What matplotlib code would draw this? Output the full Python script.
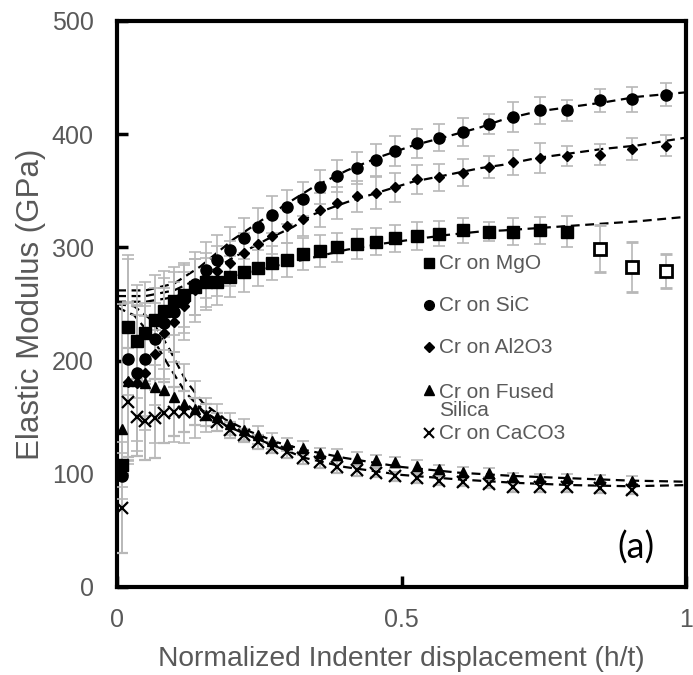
import numpy as np
import matplotlib
matplotlib.use("Agg")
import matplotlib.pyplot as plt

nan = np.nan

# normalized indenter displacement h/t (shared grid of indents)
h_t = [0.008, 0.019, 0.035, 0.049, 0.066, 0.082, 0.100, 0.118, 0.137, 0.156,
       0.176, 0.199, 0.223, 0.247, 0.272, 0.299, 0.327, 0.357, 0.387, 0.422,
       0.455, 0.489, 0.527, 0.566, 0.608, 0.654, 0.696, 0.743, 0.791, 0.849,
       0.905, 0.965]

# elastic modulus (GPa) for each film/substrate pair
mgo = [108, 230, 217, 224, 236, 244, 253, 258, 265, 269, 269, 274, 278, 282,
       286, 289, 294, 297, 300, 303, 305, 308, 310, 312, 315, 314, 314, 315,
       314, nan, nan, nan]
mgo_err = [20, 60, 50, 45, 40, 35, 30, 28, 25, 22, 20, 18, 17, 16, 15, 15,
           14, 14, 13, 13, 12, 12, 12, 11, 11, 8, 12, 12, 14, nan, nan, nan]
# MgO points past the film/substrate limit (open symbols)
mgo_open = [nan] * 29 + [299, 283, 279]
mgo_open_err = [nan] * 29 + [21, 22, 15]

sic = [98, 201, 189, 201, 219, 233, 243, 254, 268, 280, 289, 298, 308, 318,
       329, 336, 343, 353, 363, 370, 377, 385, 392, 397, 402, 409, 415, 421,
       421, 430, 431, 435]
sic_err = [20, 92, 60, 50, 45, 40, 35, 30, 28, 25, 22, 20, 18, 17, 16, 15,
           15, 15, 14, 14, 14, 13, 13, 12, 12, 9, 13, 12, 9, 10, 11, 10]

al2o3 = [nan, 181, 180, 189, 206, 224, 234, 248, 262, 270, 279, 286, 295, 303,
         310, 319, 325, 333, 339, 345, 348, 353, 360, 362, 366, 371, 375, 379,
         381, 382, 387, 390]
al2o3_err = [nan, 70, 60, 50, 45, 40, 35, 30, 28, 25, 22, 20, 18, 17, 16, 15,
             15, 15, 14, 14, 14, 13, 13, 12, 12, 10, 11, 13, 9, 9, 10, 9]

silica = [140, 182, 182, 180, 177, 174, 168, 162, 157, 152, 150, 144, 139, 134,
          129, 126, 123, 118, 117, 114, 112, 110, 107, 104, 102, 101, 97, 96,
          96, 95, 94, nan]
silica_err = [110, 70, 66, 68, 50, 47, 40, 35, 25, 15, 12, 10, 9, 8, 7, 6,
              6, 5, 5, 5, 5, 5, 5, 4, 4, 4, 4, 4, 4, 4, 4, nan]

caco3 = [70, 163, 150, 147, 149, 154, 155, 155, 155, 152, 146, 139, 134, 128,
         123, 119, 114, 110, 106, 103, 101, 98, 96, 94, 93, 91, 88, 88, 88, 87,
         86, nan]
caco3_err = [40, 48, 34, 35, 35, 27, 22, 18, 12, 10, 8, 7, 6, 6, 5, 5, 5, 5,
             5, 5, 4, 4, 4, 4, 4, 4, 4, 4, 4, 4, 4, nan]

# dashed model curves
fit_x = [0.0, 0.05, 0.10, 0.146, 0.204, 0.263, 0.309, 0.344, 0.404, 0.462,
         0.52, 0.58, 0.638, 0.679, 0.738, 0.796, 0.854, 0.914, 1.0]
fit_sic = [262, 262, 268, 283, 307, 327, 342, 353, 368, 380, 390, 398, 406,
           413, 420, 424, 428, 433, 437]
fit_al2o3 = [257, 257, 262, 273, 291, 307, 318, 329, 340, 349, 358, 364, 370,
             373, 379, 383, 387, 390, 397]
fit_mgo = [252, 252, 256, 265, 275, 282, 287, 291, 298, 303, 307, 311, 314,
           315, 317, 319, 321, 323, 327]

fit_low_x = [0.0, 0.03, 0.06, 0.09, 0.12, 0.15, 0.19, 0.23, 0.28, 0.33, 0.40,
             0.50, 0.60, 0.70, 0.80, 0.90, 1.0]
fit_silica = [250, 248, 236, 212, 183, 163, 148, 138, 128, 121, 114, 106,
              101, 98, 96, 94, 93]
fit_caco3 = [247, 240, 222, 196, 172, 156, 143, 134, 124, 114, 106, 99, 95,
             92, 90, 89, 90]

legend_labels = ["Cr on MgO", "Cr on SiC", "Cr on Al2O3", "Cr on Fused\nSilica",
                 "Cr on CaCO3"]

GRAY = "#595959"
plt.rcParams["font.family"] = ["Liberation Sans", "DejaVu Sans"]

fig = plt.figure(figsize=(6.93, 6.75), dpi=100)
ax = fig.add_axes([0.169, 0.1304, 0.821, 0.8385])

# dashed fits first so markers sit on top
dash = dict(color="black", linestyle=(0, (4, 2.5)), linewidth=1.6, zorder=2)
for fy in (fit_sic, fit_al2o3, fit_mgo):
    ax.plot(fit_x, fy, **dash)
for fy in (fit_silica, fit_caco3):
    ax.plot(fit_low_x, fy, **dash)

ebar = dict(ecolor="#b8b8b8", elinewidth=1.2, capsize=4.5, capthick=1.2,
            linestyle="none", color="black", zorder=3)
ax.errorbar(h_t, mgo, yerr=mgo_err, marker="s", markersize=8, **ebar)
ax.errorbar(h_t, sic, yerr=sic_err, marker="o", markersize=8, **ebar)
ax.errorbar(h_t, al2o3, yerr=al2o3_err, marker="D", markersize=5.5, **ebar)
ax.errorbar(h_t, silica, yerr=silica_err, marker="^", markersize=7.5, **ebar)
ax.errorbar(h_t, caco3, yerr=caco3_err, marker="x", markersize=8,
            markeredgewidth=1.6, **ebar)
ax.errorbar(h_t, mgo_open, yerr=mgo_open_err, marker="s", markersize=8,
            markerfacecolor="white", markeredgecolor="black",
            markeredgewidth=2, **ebar)

# legend drawn by hand to mimic the spreadsheet layout
leg_markers = [("s", 7, 1), ("o", 7, 1), ("D", 5, 1), ("^", 7, 1), ("x", 7, 1.5)]
leg_y = [0.572, 0.498, 0.424, 0.348, 0.272]
for (m, ms, mew), yy, lab in zip(leg_markers, leg_y, legend_labels):
    ax.plot([0.548], [yy], marker=m, markersize=ms, markeredgewidth=mew,
            color="black", transform=ax.transAxes, clip_on=False, zorder=5)
    ax.text(0.565, yy + (0.012 if "\n" in lab else 0), lab,
            transform=ax.transAxes, fontsize=15, color=GRAY,
            va="top" if "\n" in lab else "center", ha="left",
            linespacing=0.95, zorder=5)

ax.text(0.912, 0.069, "(a)", transform=ax.transAxes, fontsize=26,
        family=["Lato", "DejaVu Sans"], color="black", ha="center",
        va="center")

ax.set_xlim(0, 1)
ax.set_ylim(0, 500)
ax.set_xticks([0, 0.5, 1])
ax.set_xticklabels(["0", "0.5", "1"])
ax.set_yticks([0, 100, 200, 300, 400, 500])
ax.tick_params(direction="in", length=8, width=2.5, color="black",
               labelsize=18, labelcolor=GRAY, pad=17)
ax.tick_params(axis="x", pad=15)
for s in ax.spines.values():
    s.set_linewidth(3)
    s.set_color("black")

ax.set_xlabel("Normalized Indenter displacement (h/t)", fontsize=20.3,
              color=GRAY, labelpad=10)
ax.set_ylabel("Elastic Modulus (GPa)", fontsize=22.5, color=GRAY, labelpad=4)

fig.savefig("out.png", dpi=100)
